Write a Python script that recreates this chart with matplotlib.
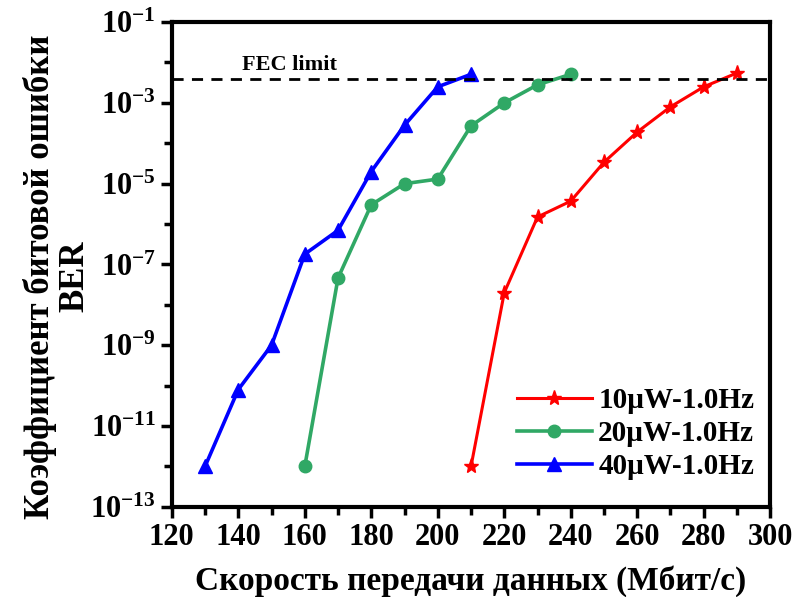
import matplotlib
matplotlib.use('Agg')
import matplotlib.pyplot as plt
from matplotlib.ticker import FixedLocator, NullFormatter, MultipleLocator

plt.rcParams['font.family'] = ['Liberation Serif', 'DejaVu Serif']
plt.rcParams['font.weight'] = 'bold'
plt.rcParams['mathtext.fontset'] = 'custom'
plt.rcParams['mathtext.rm'] = 'Liberation Serif:bold'
plt.rcParams['mathtext.bf'] = 'Liberation Serif:bold'
plt.rcParams['mathtext.it'] = 'Liberation Serif:bold:italic'

# данные
x_10 = [210, 220, 230, 240, 250, 260, 270, 280, 290]
ber_10 = [1e-12, 2e-8, 1.5e-6, 3.7e-6, 3.4e-5, 1.9e-4, 8e-4, 2.5e-3, 5.5e-3]

x_20 = [160, 170, 180, 190, 200, 210, 220, 230, 240]
ber_20 = [1e-12, 4.6e-8, 3e-6, 1e-5, 1.3e-5, 2.7e-4, 1e-3, 2.8e-3, 5.1e-3]

x_40 = [130, 140, 150, 160, 170, 180, 190, 200, 210]
ber_40 = [1e-12, 8e-11, 1e-9, 1.8e-7, 7e-7, 2e-5, 2.8e-4, 2.5e-3, 5.1e-3]

fec_limit = 3.8e-3
labels = ['10µW-1.0Hz', '20µW-1.0Hz', '40µW-1.0Hz']

fig = plt.figure(figsize=(7.99, 5.97), dpi=100)
ax = fig.add_axes([0.215, 0.151, 0.749, 0.812])

ax.plot(x_10, ber_10, color='#ff0000', lw=2.2, marker='*', ms=11, label=labels[0])
ax.plot(x_20, ber_20, color='#30a865', lw=2.6, marker='o', ms=9, label=labels[1])
ax.plot(x_40, ber_40, color='#0000ff', lw=2.6, marker='^', ms=10, label=labels[2])
ax.axhline(fec_limit, color='black', ls=(0, (4, 3)), lw=2)
ax.text(141, 6.5e-3, 'FEC limit', fontsize=16, fontweight='bold')

ax.set_yscale('log')
ax.set_xlim(120, 300)
ax.set_ylim(1e-13, 1e-1)
ax.xaxis.set_major_locator(MultipleLocator(20))
ax.xaxis.set_minor_locator(MultipleLocator(10))
ax.yaxis.set_major_locator(FixedLocator([10.0**e for e in range(-13, 0, 2)]))
ax.yaxis.set_minor_locator(FixedLocator([10.0**e for e in range(-12, 0, 2)]))
ax.yaxis.set_minor_formatter(NullFormatter())
ax.set_yticklabels([r'$10^{%d}$' % e for e in range(-13, 0, 2)])

ax.tick_params(which='both', direction='out', width=2.5, labelsize=22)
ax.tick_params(which='major', length=8)
ax.tick_params(which='minor', length=6)
for s in ax.spines.values():
    s.set_linewidth(3)

ax.set_xlabel('Скорость передачи данных (Мбит/с)', fontsize=24, fontweight='bold', labelpad=10)
ax.set_ylabel('Коэффициент битовой ошибки\nBER', fontsize=25, fontweight='bold', linespacing=1.05)
ax.yaxis.set_label_coords(-0.135, 0.475)

ax.legend(loc='lower right', bbox_to_anchor=(1.0, 0.022), frameon=False, fontsize=21,
          handlelength=2.6, handletextpad=0.2, labelspacing=0.2, borderaxespad=0.15)

fig.savefig('out.png', dpi=100)
